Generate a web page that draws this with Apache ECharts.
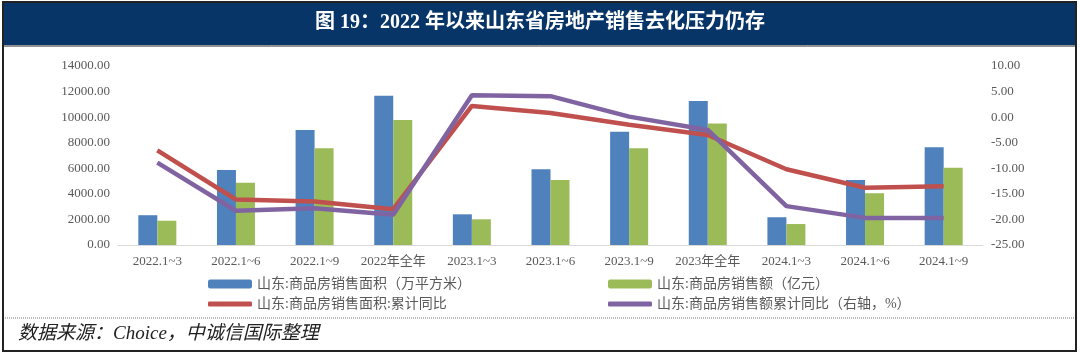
<!DOCTYPE html>
<html>
<head>
<meta charset="utf-8">
<script src="https://cdn.jsdelivr.net/npm/echarts@6/dist/echarts.min.js"></script>
<style>
  html, body { margin: 0; padding: 0; background: #fff; }
  #chart { width: 1080px; height: 354px; }
</style>
</head>
<body>
<div id="chart"></div>
<script>
  // 数据
  var categories = ['2022.1~3', '2022.1~6', '2022.1~9', '2022年全年', '2023.1~3', '2023.1~6',
    '2023.1~9', '2023年全年', '2024.1~3', '2024.1~6', '2024.1~9'];
  var areaValues = [2330, 5860, 8990, 11680, 2400, 5920, 8860, 11260, 2170, 5080, 7640];
  var salesValues = [1900, 4870, 7560, 9770, 2010, 5080, 7560, 9510, 1640, 4040, 6040];
  var areaYoY = [-6.5, -16.1, -16.5, -18.0, 2.2, 0.8, -1.5, -3.5, -10.2, -13.8, -13.5];
  var salesYoY = [-8.9, -18.3, -17.8, -19.1, 4.3, 4.1, 0.1, -2.5, -17.4, -19.7, -19.7];

  var names = ['山东:商品房销售面积（万平方米）', '山东:商品房销售额（亿元）',
    '山东:商品房销售面积:累计同比', '山东:商品房销售额累计同比（右轴，%）'];

  var serif = '"Times New Roman", "Liberation Serif", "Noto Sans CJK SC", serif';
  var labelColor = '#595959';

  var chart = echarts.init(document.getElementById('chart'));

  function legendAt(name, left, top, h) {
    return {
      data: [{ name: name, icon: 'roundRect' }],
      left: left,
      top: top,
      itemWidth: 44,
      itemHeight: h,
      textStyle: { fontFamily: serif, fontSize: 14, color: labelColor }
    };
  }

  var option = {
    animation: false,
    backgroundColor: '#fff',
    graphic: [
      { type: 'rect', shape: { x: 4, y: 3, width: 1071, height: 42 }, style: { fill: '#083567' } },
      {
        type: 'text', left: 'center', top: 13,
        style: {
          text: '图 19：2022 年以来山东省房地产销售去化压力仍存',
          fill: '#fff', font: 'bold 20px ' + serif
        }
      },
      { type: 'rect', shape: { x: 3, y: 2, width: 1073, height: 349 }, style: { fill: 'none', stroke: '#222', lineWidth: 2 } },
      { type: 'line', shape: { x1: 4, y1: 46, x2: 1075, y2: 46 }, style: { stroke: '#222', lineWidth: 1 } },
      { type: 'line', shape: { x1: 5, y1: 318, x2: 1075, y2: 318 }, style: { stroke: '#777', lineWidth: 1, lineDash: [1, 1] } },
      {
        type: 'text', left: 18, top: 324,
        style: {
          text: '数据来源：Choice，中诚信国际整理',
          fill: '#222', font: 'italic 19px ' + serif
        }
      }
    ],
    legend: [
      legendAt(names[0], 203, 272, 9),
      legendAt(names[1], 603, 272, 9),
      legendAt(names[2], 203, 292, 5),
      legendAt(names[3], 603, 292, 5)
    ],
    grid: { left: 118, right: 97, top: 66, bottom: 109 },
    xAxis: {
      type: 'category',
      data: categories,
      axisLine: { lineStyle: { color: '#d9d9d9' } },
      axisTick: { show: false },
      axisLabel: { interval: 0, color: labelColor, fontFamily: serif, fontSize: 13, margin: 10 }
    },
    yAxis: [
      {
        type: 'value', min: 0, max: 14000, interval: 2000,
        splitLine: { show: false },
        axisLabel: {
          color: labelColor, fontFamily: serif, fontSize: 13, margin: 8,
          formatter: function (v) { return v.toFixed(2); }
        }
      },
      {
        type: 'value', min: -25, max: 10, interval: 5,
        splitLine: { show: false },
        axisLabel: {
          color: labelColor, fontFamily: serif, fontSize: 13, margin: 8,
          formatter: function (v) { return v.toFixed(2); }
        }
      }
    ],
    series: [
      {
        name: names[0], type: 'bar', data: areaValues, barWidth: 19, barGap: '0%',
        itemStyle: { color: '#4f81bd' }
      },
      {
        name: names[1], type: 'bar', data: salesValues, barWidth: 19,
        itemStyle: { color: '#9bbb59' }
      },
      {
        name: names[2], type: 'line', yAxisIndex: 1, data: areaYoY, symbol: 'none',
        lineStyle: { color: '#c0504d', width: 4.5 }, itemStyle: { color: '#c0504d' }
      },
      {
        name: names[3], type: 'line', yAxisIndex: 1, data: salesYoY, symbol: 'none',
        lineStyle: { color: '#8064a2', width: 4.5 }, itemStyle: { color: '#8064a2' }
      }
    ]
  };

  chart.setOption(option);
</script>
</body>
</html>
